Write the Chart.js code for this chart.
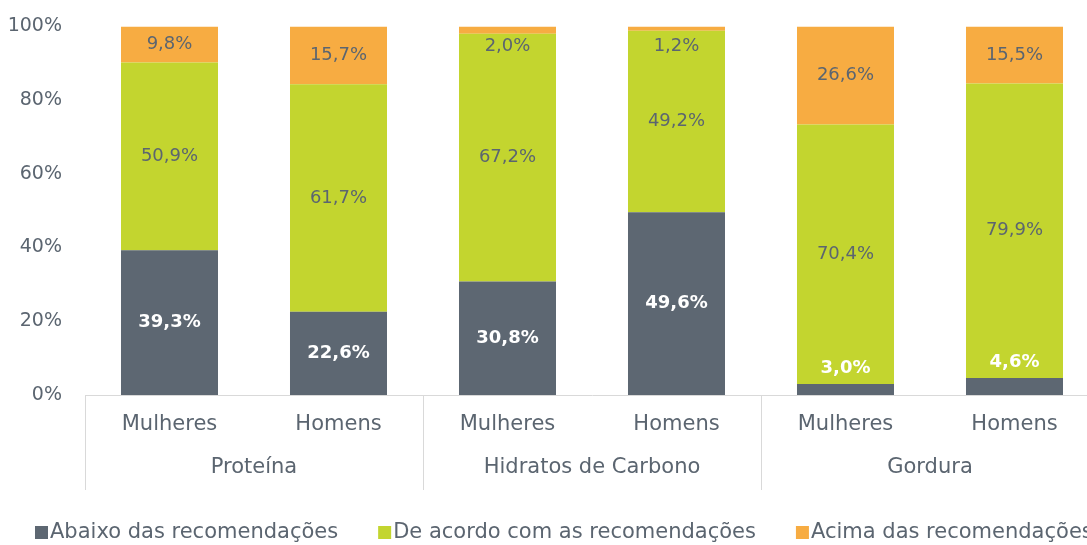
<!DOCTYPE html>
<html>
<head>
<meta charset="utf-8">
<script src="https://cdn.jsdelivr.net/npm/chart.js@4"></script>
<style>
  html, body { margin: 0; padding: 0; background: #fff; overflow: hidden; }
  #wrap { width: 1099px; height: 545px; }
</style>
</head>
<body>
<div id="wrap"><canvas id="chart"></canvas></div>
<script>
// dados do gráfico
const groups = ["Proteína", "Hidratos de Carbono", "Gordura"];
const sexes = ["Mulheres", "Homens"];
const abaixo = [39.3, 22.6, 30.8, 49.6, 3.0, 4.6];
const deAcordo = [50.9, 61.7, 67.2, 49.2, 70.4, 79.9];
const acima = [9.8, 15.7, 2.0, 1.2, 26.6, 15.5];
const seriesNames = [
  "Abaixo das recomendações",
  "De acordo com as recomendações",
  "Acima das recomendações",
];
const yTicks = [0, 20, 40, 60, 80, 100];

const textColor = "#5B6570";
const colors = ["#5D6772", "#C3D52F", "#F7AC42"];
const font = "DejaVu Sans";

const labels = [];
groups.forEach(() => sexes.forEach((s) => labels.push(s)));

function fmt(v) {
  return v.toFixed(1).replace(".", ",") + "%";
}

// rótulos de valores dentro das barras
const valueLabels = {
  id: "valueLabels",
  afterDatasetsDraw(chart) {
    const ctx = chart.ctx;
    ctx.save();
    ctx.textAlign = "center";
    ctx.textBaseline = "middle";
    chart.data.datasets.forEach((ds, di) => {
      const meta = chart.getDatasetMeta(di);
      meta.data.forEach((el, i) => {
        const v = ds.data[i];
        let y = (el.y + el.base) / 2;
        if (di === 0) {
          ctx.fillStyle = "#fff";
          ctx.font = "bold 18px '" + font + "'";
          if (v < 8) y = el.y - 16;
        } else {
          ctx.fillStyle = textColor;
          ctx.font = "18px '" + font + "'";
          if (v < 5) y = el.y + 20;
        }
        ctx.fillText(fmt(v), el.x, y);
      });
    });
    ctx.restore();
  },
};

// eixo de grupos + legenda
const groupAxis = {
  id: "groupAxis",
  afterDraw(chart) {
    const ctx = chart.ctx;
    const x = chart.scales.x;
    const area = chart.chartArea;
    const slot = (x.right - x.left) / labels.length;
    ctx.save();
    ctx.strokeStyle = "#D9D9D9";
    ctx.lineWidth = 1;
    for (let g = 0; g <= groups.length; g++) {
      const px = Math.round(x.left + g * slot * sexes.length) + 0.5;
      ctx.beginPath();
      ctx.moveTo(px, area.bottom);
      ctx.lineTo(px, area.bottom + 95);
      ctx.stroke();
    }
    ctx.fillStyle = textColor;
    ctx.font = "21px '" + font + "'";
    ctx.textAlign = "center";
    ctx.textBaseline = "middle";
    groups.forEach((g, gi) => {
      const cx = x.left + (gi + 0.5) * slot * sexes.length;
      ctx.fillText(g, cx, area.bottom + 73);
    });

    // legenda
    ctx.textAlign = "left";
    let lx = 35;
    const ly = 533;
    seriesNames.forEach((name, i) => {
      ctx.fillStyle = colors[i];
      ctx.fillRect(lx, ly - 7, 13, 13);
      ctx.fillStyle = textColor;
      ctx.fillText(name, lx + 15, ly);
      lx += 15 + ctx.measureText(name).width + 40;
    });
    ctx.restore();
  },
};

new Chart(document.getElementById("chart"), {
  type: "bar",
  data: {
    labels: labels,
    datasets: [
      { label: seriesNames[0], data: abaixo, backgroundColor: colors[0] },
      { label: seriesNames[1], data: deAcordo, backgroundColor: colors[1] },
      { label: seriesNames[2], data: acima, backgroundColor: colors[2] },
    ],
  },
  options: {
    responsive: true,
    maintainAspectRatio: false,
    animation: false,
    layout: { padding: { top: 15, right: 0, left: 0, bottom: 0 } },
    datasets: {
      bar: { categoryPercentage: 1, barPercentage: 0.574 },
    },
    plugins: {
      legend: { display: false },
      tooltip: { enabled: false },
    },
    scales: {
      x: {
        stacked: true,
        grid: { display: false },
        border: { display: true, color: "#D9D9D9" },
        ticks: {
          color: textColor,
          font: { family: font, size: 21 },
          padding: 9,
          maxRotation: 0,
        },
        afterFit: (s) => {
          s.height = 150;
        },
      },
      y: {
        stacked: true,
        min: 0,
        max: 100,
        grid: { display: false },
        border: { display: false },
        afterBuildTicks: (s) => {
          s.ticks = yTicks.map((v) => ({ value: v }));
        },
        ticks: {
          color: textColor,
          font: { family: font, size: 19 },
          padding: 15,
          callback: (v) => v + "%",
        },
        afterFit: (s) => {
          s.width = 85;
        },
      },
    },
  },
  plugins: [valueLabels, groupAxis],
});
</script>
</body>
</html>
